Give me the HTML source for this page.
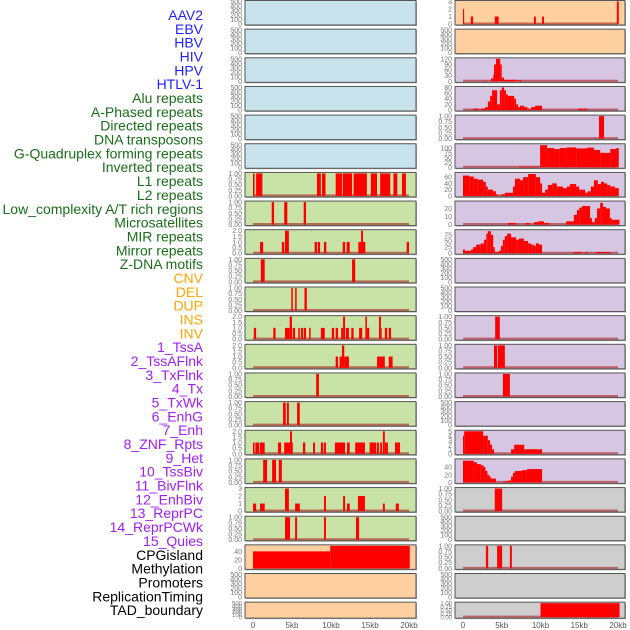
<!DOCTYPE html>
<html><head><meta charset="utf-8"><style>
body{margin:0;background:#fff;}
svg{display:block;font-family:"Liberation Sans",sans-serif;}
</style></head><body>
<svg id="chart" width="630" height="630" viewBox="0 0 630 630" xmlns="http://www.w3.org/2000/svg">
<g id="labels"></g>
<g id="panels"></g>
<g id="xaxes"></g>
</svg>
<script>
// feature labels
const labelNames = ["AAV2","EBV","HBV","HIV","HPV","HTLV-1","Alu repeats","A-Phased repeats","Directed repeats","DNA transposons","G-Quadruplex forming repeats","Inverted repeats","L1 repeats","L2 repeats","Low_complexity A/T rich regions","Microsatellites","MIR repeats","Mirror repeats","Z-DNA motifs","CNV","DEL","DUP","INS","INV","1_TssA","2_TssAFlnk","3_TxFlnk","4_Tx","5_TxWk","6_EnhG","7_Enh","8_ZNF_Rpts","9_Het","10_TssBiv","11_BivFlnk","12_EnhBiv","13_ReprPC","14_ReprPCWk","15_Quies","CPGisland","Methylation","Promoters","ReplicationTiming","TAD_boundary"];
const labelGroups = ["b","b","b","b","b","b","g","g","g","g","g","g","g","g","g","g","g","g","g","o","o","o","o","o","p","p","p","p","p","p","p","p","p","p","p","p","p","p","p","k","k","k","k","k"];
const xTicks = [0,5,10,15,20];
const xTickLabels = ["0","5kb","10kb","15kb","20kb"];
const emptyTicks = [0,100,200,300,400,500];
const t01 = [0,0.25,0.5,0.75,1];
const t01L = ["0.00","0.25","0.50","0.75","1.00"];
const t02 = [0,0.5,1,1.5,2];
const t02L = ["0.0","0.5","1.0","1.5","2.0"];

// left column data: [startKb, endKb, value]
const L7 = [[0,0.2,1],[0.4,1.2,1],[8.2,8.7,1],[8.85,9.3,1],[10.6,11.4,1],[11.5,12.7,1],[12.9,14.6,1],[15.1,15.9,1],[16.3,17.6,1],[18.0,18.5,1],[19.1,19.6,1]];
const L8 = [[2.4,2.7,1],[4.0,4.4,1],[6.5,6.8,1]];
const L9 = [[0.9,1.3,1],[3.7,4.0,1],[4.1,4.6,2],[7.9,8.2,1],[8.3,8.6,1],[9.1,9.4,1],[11.5,11.8,1],[12.0,12.4,1],[13.5,13.85,1],[13.85,14.1,2],[14.1,14.4,1],[19.7,20.0,1]];
const L10 = [[1.0,1.5,1],[12.7,13.1,1]];
const L11 = [[4.9,5.1,1],[5.4,5.6,1],[6.6,6.9,1]];
const L12 = [[0.1,0.4,1],[2.6,2.9,1],[4.1,4.7,1],[4.7,5.0,2],[5.1,5.4,1],[5.8,6.0,1],[6.15,6.4,1],[6.5,6.8,1],[7.2,7.4,1],[8.7,9.2,1],[10.1,10.4,1],[10.6,10.9,1],[11.3,11.55,1],[11.55,11.8,2],[11.9,12.3,1],[12.6,12.9,1],[13.6,14.0,1],[14.4,14.6,2],[14.6,14.9,1],[16.15,16.4,2],[16.4,16.5,1],[16.9,17.2,1],[17.4,17.7,1]];
const L13 = [[10.6,10.9,1],[11.1,11.4,1],[11.4,11.7,2],[11.7,12.3,1],[15.9,16.9,1],[17.4,17.9,1]];
const L14 = [[8.1,8.45,1]];
const L15 = [[3.85,4.2,1],[4.35,4.6,1],[5.65,6.0,1]];
const L16 = [[0,0.2,1],[0.3,0.8,1],[0.9,1.5,1],[3.2,3.6,1],[4.0,4.75,1],[4.75,5.0,2],[5.0,5.1,1],[6.4,6.7,1],[7.7,7.95,1],[8.7,9.0,1],[9.1,9.35,1],[10.5,11.8,1],[12.05,12.4,1],[13.1,14.35,1],[14.95,15.8,1],[15.9,16.15,1],[16.3,16.55,1],[16.65,16.9,2],[16.9,17.3,1],[18.2,18.85,1]];
const L17 = [[1.3,1.8,1],[2.45,2.95,1],[3.3,3.7,1]];
const L18 = [[0,0.4,1],[0.9,1.5,1],[4.1,4.6,3],[5.4,6.0,1],[9.1,9.35,2],[11.55,11.8,2],[12.05,12.4,1],[13.45,14.35,2],[16.65,16.9,1],[18.3,18.7,1]];
const L19 = [[4.1,4.75,1],[5.4,5.65,1],[9.1,9.35,1],[13.2,13.6,1]];
const L20 = [[0,9.9,40],[9.9,20.1,53]];

// right column data
const R1 = [[0,0.15,2],[1.0,1.3,1],[4.1,4.6,1],[9.15,9.4,1],[10.2,10.45,1],[19.85,20.1,3]];
const R3 = [[2.6,3.2,2],[3.6,3.9,15],[3.9,4.0,35],[4.0,4.25,90],[4.25,4.8,120],[4.8,5.0,90],[5.0,5.3,20],[5.3,6.8,8],[6.85,7.6,5]];
const R4 = [[1.3,2.05,5],[2.3,2.85,5],[2.85,3.2,10],[3.2,3.5,30],[3.5,3.75,50],[3.75,4.4,70],[4.4,4.75,20],[4.75,5.0,70],[5.0,5.3,80],[5.3,5.55,70],[5.55,5.8,55],[5.8,6.6,50],[6.6,6.85,40],[6.85,7.1,20],[7.1,7.35,10],[7.35,7.9,15],[7.9,8.3,10],[8.3,8.65,5],[8.8,9.3,10],[9.3,10.2,15],[14.85,16.0,5]];
const R5 = [[17.55,18.2,1]];
const R6 = [[7.2,9.95,3],[9.95,10.85,115],[10.85,11.75,100],[11.75,12.5,95],[12.5,13.4,100],[13.4,14.6,103],[14.6,16.0,98],[16.0,16.9,102],[16.9,17.7,90],[17.7,19.0,75],[19.0,19.8,95],[19.8,20.1,100]];
const R7 = [[0,0.8,65],[0.8,1.4,62],[1.4,1.9,55],[1.9,2.6,52],[2.6,2.95,45],[2.95,3.2,30],[3.2,3.9,20],[3.9,4.25,15],[4.25,4.5,5],[4.9,5.4,5],[5.4,6.45,10],[6.45,6.7,30],[6.7,7.35,55],[7.35,7.75,50],[7.75,8.4,60],[8.4,9.4,70],[9.4,9.95,60],[9.95,10.2,40],[10.2,10.6,10],[10.6,10.95,20],[10.95,11.5,35],[11.5,12.1,40],[12.1,12.9,30],[12.9,13.4,25],[13.4,13.8,30],[13.8,14.6,38],[14.6,15.0,30],[15.0,15.75,20],[15.75,16.1,10],[16.1,16.5,15],[16.5,16.9,30],[16.9,17.4,50],[17.4,17.8,38],[17.8,18.2,45],[18.2,18.6,40],[18.6,19.0,35],[19.0,19.6,30],[19.6,20.1,25]];
const R8 = [[5.8,6.85,2],[8.1,8.65,2],[9.15,9.7,3],[9.7,10.45,4],[10.45,11.1,2],[13.3,14.3,4],[14.3,14.7,12],[14.7,15.0,18],[15.0,15.35,21],[15.35,16.4,23],[16.4,16.65,8],[16.65,17.0,3],[17.0,17.3,8],[17.3,17.7,20],[17.7,18.05,27],[18.05,18.45,22],[18.45,18.95,20],[18.95,19.2,8],[19.2,20.2,6]];
const R9 = [[0,0.25,15],[0.25,1.0,10],[1.0,1.3,15],[1.3,1.7,25],[1.7,2.3,35],[2.3,2.7,40],[2.7,3.0,55],[3.0,3.2,80],[3.2,3.6,90],[3.6,3.9,75],[3.9,4.1,25],[4.1,4.6,5],[4.6,4.9,10],[4.9,5.15,30],[5.15,5.4,55],[5.4,5.7,70],[5.7,6.2,80],[6.2,6.85,65],[6.85,7.2,55],[7.2,7.85,60],[7.85,8.4,50],[8.4,8.8,40],[8.8,9.15,35],[9.15,9.4,30],[9.4,9.8,40],[9.8,10.2,35],[14.3,15.35,5],[15.75,16.1,5],[17.15,19.0,5]];
const R12 = [[4.15,4.75,1]];
const R13 = [[4.0,4.4,1],[4.5,5.4,1]];
const R14 = [[5.15,6.05,1]];
const R16 = [[0,0.15,4],[0.15,2.6,5],[2.6,3.2,4],[3.2,3.5,3],[3.5,3.75,2],[3.75,4.0,1],[6.2,6.6,1],[6.6,7.9,2],[7.9,10.2,1]];
const R17 = [[0,1.4,57],[1.4,1.8,53],[1.8,2.3,48],[2.3,2.65,45],[2.65,2.9,40],[2.9,3.15,30],[3.15,3.4,20],[3.4,3.6,15],[3.6,4.25,10],[5.2,5.8,3],[5.8,6.2,5],[6.2,6.45,15],[6.45,6.7,25],[6.7,7.6,30],[7.6,8.25,32],[8.25,10.2,35]];
const R18 = [[4.1,5.05,1]];
const R20 = [[2.95,3.25,1],[4.4,5.05,1],[6.05,6.3,1]];
const R22 = [[10.0,20.2,1]];

const BG = {b:"#c8e3eb",g:"#c9e2a6",o:"#ffd09f",p:"#d6c6e1",k:"#cecece"};
const LCOL = {b:"#1f1fff",g:"#1a6e1a",o:"#ffa500",p:"#a020f0",k:"#000000"};

// panel specs: [column, row, bg, data, ymax, ticks, tickLabels]
const panelsSpec = [
 ["L",0,"b",null],["L",1,"b",null],["L",2,"b",null],["L",3,"b",null],["L",4,"b",null],["L",5,"b",null],
 ["L",6,"g",L7,1,t01,t01L],["L",7,"g",L8,1,t01,t01L],["L",8,"g",L9,2,t02,t02L],["L",9,"g",L10,1,t01,t01L],
 ["L",10,"g",L11,1,t01,t01L],["L",11,"g",L12,2,t02,t02L],["L",12,"g",L13,2,t02,t02L],["L",13,"g",L14,1,t01,t01L],
 ["L",14,"g",L15,1,t01,t01L],["L",15,"g",L16,2,t02,t02L],["L",16,"g",L17,1,t01,t01L],["L",17,"g",L18,3,[0,1,2,3],["0","1","2","3"]],
 ["L",18,"g",L19,1,t01,t01L],["L",19,"o",L20,53,[0,20,40],["0","20","40"]],["L",20,"o",null],["L",21,"o",null],
 ["R",0,"o",R1,3,[0,1,2,3],["0","1","2","3"]],["R",1,"o",null],["R",2,"p",R3,120,[0,30,60,90,120],["0","30","60","90","120"]],
 ["R",3,"p",R4,80,[0,20,40,60,80],["0","20","40","60","80"]],["R",4,"p",R5,1,t01,t01L],["R",5,"p",R6,117,[0,25,50,75,100],["0","25","50","75","100"]],
 ["R",6,"p",R7,72,[0,20,40,60],["0","20","40","60"]],["R",7,"p",R8,28,[0,10,20],["0","10","20"]],["R",8,"p",R9,92,[0,25,50,75],["0","25","50","75"]],
 ["R",9,"p",null],["R",10,"p",null],["R",11,"p",R12,1,t01,t01L],["R",12,"p",R13,1,t01,t01L],["R",13,"p",R14,1,t01,t01L],
 ["R",14,"p",null],["R",15,"p",R16,5,[0,1,2,3,4,5],["0","1","2","3","4","5"]],["R",16,"p",R17,59,[0,20,40],["0","20","40"]],
 ["R",17,"k",R18,1,t01,t01L],["R",18,"k",null],["R",19,"k",R20,1,t01,t01L],["R",20,"k",null],["R",21,"k",R22,1,t01,t01L]
];

const NS="http://www.w3.org/2000/svg";
function mk(tag,attrs,parent){const e=document.createElementNS(NS,tag);for(const k in attrs)e.setAttribute(k,attrs[k]);parent.appendChild(e);return e;}
const COL = {L:{x0:245,x1:416,z:253,s:7.8,tx:242},R:{x0:455,x1:625,z:463,s:7.75,tx:452}};
function xScale(c,kb){return COL[c].z+kb*COL[c].s;}
function rowTop(r){return 0.5+r*28.65;}
function rowH(r){return r===21?16:24.5;}

// labels
const lg=document.getElementById("labels");
labelNames.forEach((n,i)=>{
  const t=mk("text",{x:203,y:20+i*13.84,"text-anchor":"end","font-size":"14",fill:LCOL[labelGroups[i]]},lg);
  t.textContent=n;
  
  
});

const pg=document.getElementById("panels");
panelsSpec.forEach(sp=>{
  const [c,r,bg,data,ymax,ticks,tl]=sp;
  const C=COL[c], top=rowTop(r), h=rowH(r), bot=top+h;
  const g=mk("g",{},pg);
  
  
  mk("rect",{x:C.x0+1,y:top+1,width:C.x1-C.x0,height:h,fill:"#aaa"},g);
  const bgr=mk("rect",{x:C.x0,y:top,width:C.x1-C.x0,height:h,fill:BG[bg],stroke:"#555","stroke-width":1},g);
  
  
  const yb=bot-1, yt=top+1;
  let tv,tlab,ym;
  if(!data){tv=emptyTicks;tlab=emptyTicks.map(String);ym=500;}else{tv=ticks;tlab=tl;ym=ymax;}
  const ys=v=>yb-(v/ym)*(yb-yt);
  tv.forEach((v,i)=>{
    const t=mk("text",{x:C.tx,y:ys(v)+2.5,"text-anchor":"end","font-size":r===21?"6":"7",fill:"#777"},g);
    t.textContent=tlab[i];
    
    
  });
  if(data){
    mk("line",{x1:xScale(c,0),x2:xScale(c,20),y1:yb-0.5,y2:yb-0.5,stroke:"rgba(170,30,30,0.6)","stroke-width":2},g);
    data.forEach(d=>{
      const x1=xScale(c,d[0]), x2=xScale(c,d[1]);
      const b=mk("rect",{x:Math.max(C.x0,x1),y:ys(d[2]),width:Math.max(0.8,Math.min(C.x1,x2)-Math.max(C.x0,x1)),height:yb-ys(d[2]),fill:"#ff0000"},g);
      
      
    });
  }
});

// x axes
const xg=document.getElementById("xaxes");
["L","R"].forEach(c=>{
  xTicks.forEach((v,i)=>{
    const x=xScale(c,v);
    mk("line",{x1:x,x2:x,y1:617,y2:619,stroke:"#888","stroke-width":0.8},xg);
    const t=mk("text",{x:x,y:628,"text-anchor":"middle","font-size":"8",fill:"#555"},xg);
    t.textContent=xTickLabels[i];
    
    
  });
});
</script>
</body></html>
